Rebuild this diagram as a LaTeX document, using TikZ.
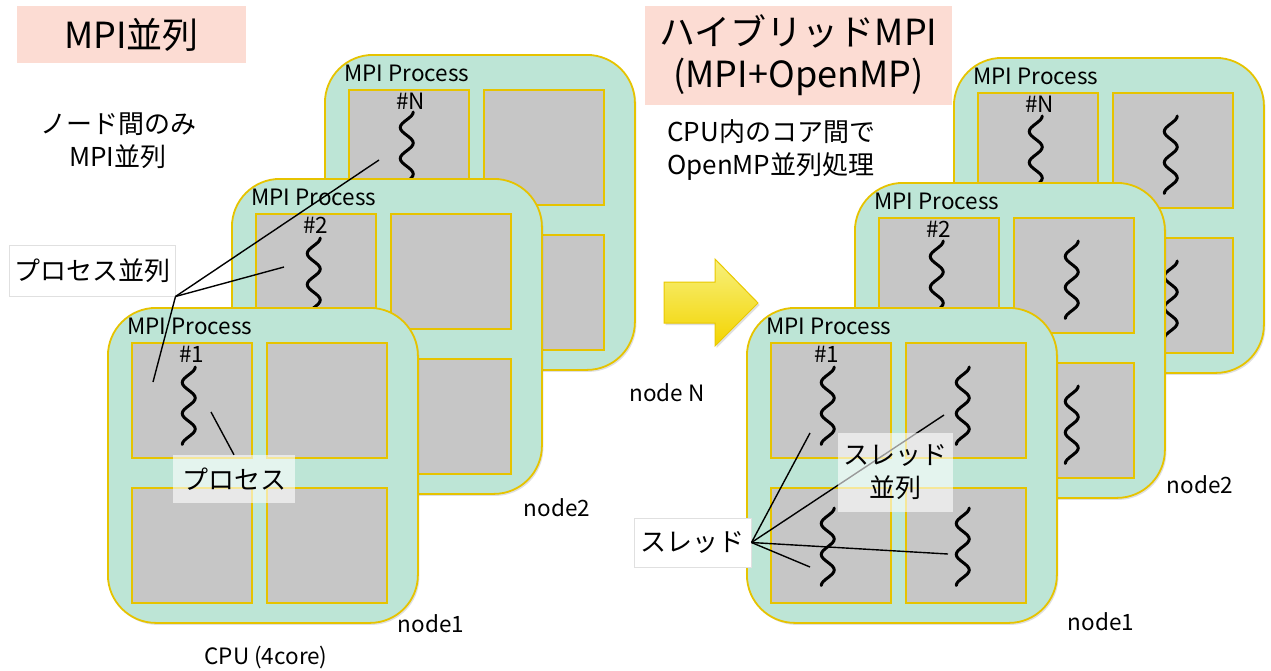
\documentclass[tikz,border=0pt]{standalone}
\usepackage{fontspec}
\setmainfont{Noto Sans CJK JP}
\usetikzlibrary{shadows,calc}

\definecolor{mint}{HTML}{BDE5D6}
\definecolor{gold}{HTML}{E6C300}
\definecolor{coregray}{HTML}{C6C6C6}
\definecolor{titlepink}{HTML}{FCDCD3}
\definecolor{arrowtop}{HTML}{F7F07C}
\definecolor{arrowbot}{HTML}{F3D400}
\definecolor{arrowedge}{HTML}{E9C800}

\tikzset{
  x=1pt, y=-1pt,
  panel/.style={draw=gold, line width=1.8, fill=mint, rounded corners=48,
    minimum width=310, minimum height=315, anchor=north west, inner sep=0,
    drop shadow={opacity=0.25, shadow xshift=1.5pt, shadow yshift=-2pt}},
  core/.style={draw=gold, line width=1.5, fill=coregray,
    minimum width=120, minimum height=115, anchor=north west, inner sep=0,
    drop shadow={opacity=0.3, shadow xshift=1.5pt, shadow yshift=-1.5pt}},
  smalltext/.style={inner sep=0, font=\fontsize{22.5}{27}\selectfont},
  labeltext/.style={inner sep=0, font=\fontsize{26}{33}\selectfont},
  titlebox/.style={fill=titlepink, inner sep=0, font=\fontsize{36}{42}\selectfont, align=center},
  callout/.style={fill=white, draw=black!12, line width=1, inner sep=0,
    font=\fontsize{26}{33}\selectfont, align=center},
  softcallout/.style={fill=white, fill opacity=0.6, text opacity=1, inner sep=0,
    font=\fontsize{26}{33}\selectfont, align=center},
  leader/.style={draw=black, line width=1.4},
  % one CPU node: rounded board with four cores
  cpu/.pic={
    \node[panel] (-box) at (0,0) {};
    \node[core] (-tl) at (24,35) {};
    \node[core] (-tr) at (159,35) {};
    \node[core] (-bl) at (24,180) {};
    \node[core] (-br) at (159,180) {};
    \node[smalltext, anchor=west] (-title) at (20,19) {MPI Process};
  },
  % wavy thread glyph
  thread/.pic={
    \draw[line width=3, line cap=round]
      plot[smooth, domain=0:77.5, samples=41] ({6.5*cos(180*\x/15.5)}, \x);
  }
}

\begin{document}
\begin{tikzpicture}
\useasboundingbox (0,0) rectangle (1271,670);
\fill[white] (0,0) rectangle (1271,670);

% ---------------- left: MPI only ----------------
\pic (L3) at (324,54) {cpu};
\pic at ($(L3-tl.north)+(-2,23)$) {thread};
\node[smalltext] (L3n) at ($(L3-tl.north)+(2,12)$) {\#N};

\pic (L2) at (231,178) {cpu};
\pic at ($(L2-tl.north)+(-2,25)$) {thread};
\node[smalltext] (L2n) at ($(L2-tl.north)+(0,12)$) {\#2};

\pic (L1) at (107,307) {cpu};
\pic at ($(L1-tl.north)+(-3,25)$) {thread};
\node[smalltext] (L1n) at ($(L1-tl.north)+(0,12)$) {\#1};

\node[titlebox, minimum width=229, minimum height=57] (T1) at (131.5,34.5) {MPI並列};
\node[labeltext, align=center] (T1note) at (118,141) {ノード間のみ\\MPI並列};

\node[callout, minimum width=166, minimum height=51] (procpar) at (92,270.5) {プロセス並列};
\coordinate (pN) at (379,160);
\coordinate (p2) at (284,267);
\coordinate (p1) at (153,382);
\draw[leader] (procpar.south east) -- (pN);
\draw[leader] (procpar.south east) -- (p2);
\draw[leader] (procpar.south east) -- (p1);

\coordinate (pthr) at (211,412);
\node[softcallout, minimum width=122, minimum height=48] (proc) at (234,479) {プロセス};
\draw[leader] (pthr) -- (proc.north);

\node[smalltext] (Lnode1) at (431,624) {node1};
\node[smalltext] (Lnode2) at (557,508) {node2};
\node[smalltext] (cpu4) at (266,657) {CPU (4core)};
\node[smalltext] (nodeN) at (667,393) {node N};

% ---------------- arrow ----------------
\path[top color=arrowtop, bottom color=arrowbot, draw=arrowedge, line width=1,
      drop shadow={opacity=0.25, shadow xshift=1.5pt, shadow yshift=-2pt}]
  (664,282) -- (715,282) -- (715,259) -- (758,303) -- (715,346) -- (715,323) -- (664,323) -- cycle;

% ---------------- right: hybrid MPI ----------------
\pic (R3) at (953,57) {cpu};
\foreach \c in {tl,tr,bl,br} \pic at ($(R3-\c.north)+(-2,24)$) {thread};
\node[smalltext] (R3n) at ($(R3-tl.north)+(2,12)$) {\#N};

\pic (R2) at (854,182) {cpu};
\foreach \c in {tl,tr,bl,br} \pic at ($(R2-\c.north)+(-2,24)$) {thread};
\node[smalltext] (R2n) at ($(R2-tl.north)+(0,12)$) {\#2};

\pic (R1) at (746,307) {cpu};
\foreach \c in {tl,tr} \pic at ($(R1-\c.north)+(-3,25)$) {thread};
\foreach \c in {bl,br} \pic at ($(R1-\c.north)+(-3,21)$) {thread};
\node[smalltext] (R1n) at ($(R1-tl.north)+(-4,12)$) {\#1};

\node[titlebox, minimum width=307, minimum height=99] (T2) at (798.5,55.5) {ハイブリッドMPI\\(MPI+OpenMP)};
\node[labeltext, align=left, anchor=west] (T2note) at (667,150) {CPU内のコア間で\\OpenMP並列処理};

\node[callout, minimum width=117, minimum height=49] (thr) at (692.5,542.5) {スレッド};
\coordinate (t1) at (810,433);
\coordinate (t2) at (944,415);
\coordinate (t3) at (810,567);
\coordinate (t4) at (948,554);
\draw[leader] (thr.east) -- (t1);
\draw[leader] (thr.east) -- (t2);
\draw[leader] (thr.east) -- (t3);
\draw[leader] (thr.east) -- (t4);

\node[softcallout, minimum width=115, minimum height=79] (thrpar) at (895.5,472.5) {スレッド\\並列};

\node[smalltext] (Rnode1) at (1101,622) {node1};
\node[smalltext] (Rnode2) at (1200,485) {node2};
\end{tikzpicture}
\end{document}
